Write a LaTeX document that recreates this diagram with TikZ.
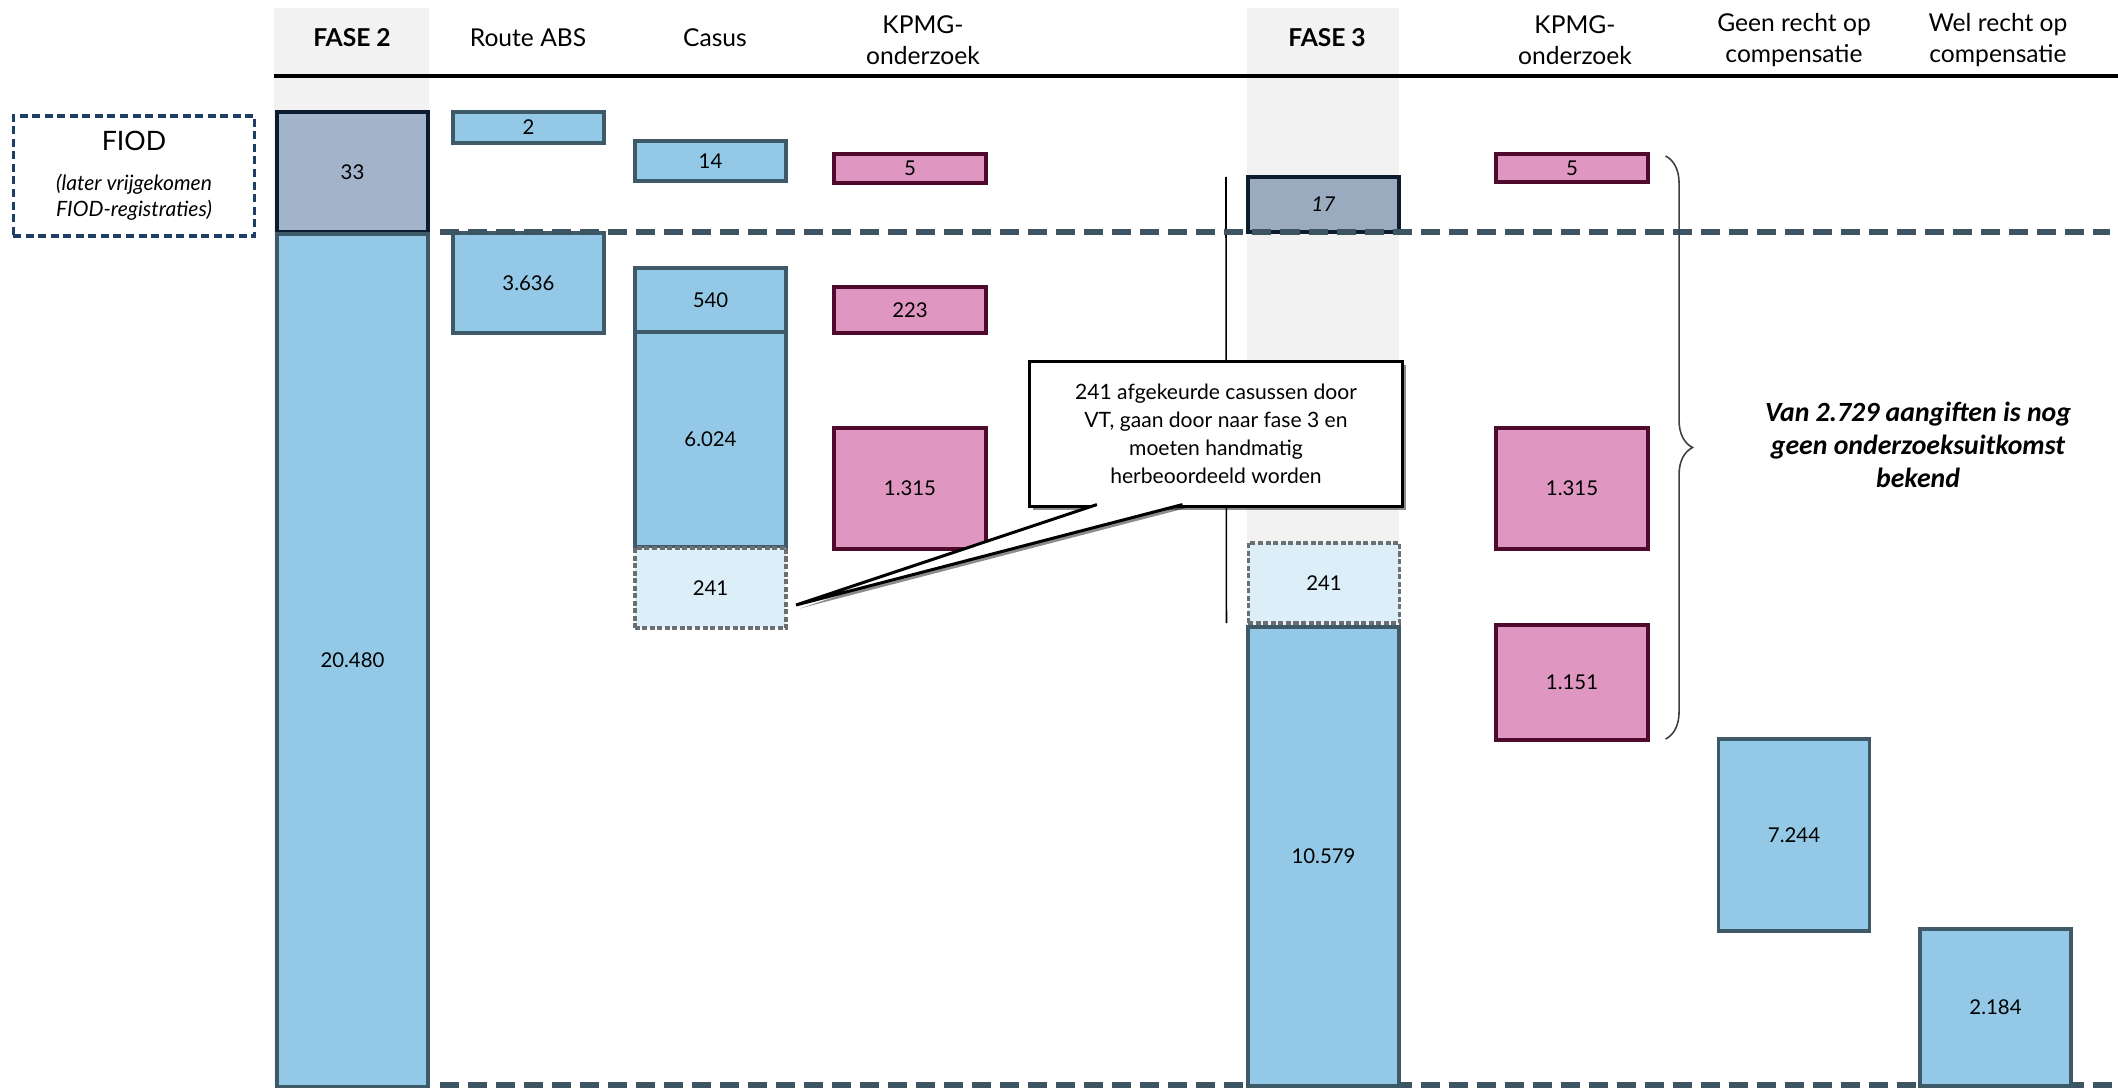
\documentclass[tikz,border=0pt]{standalone}
\usepackage{fontspec}
\setmainfont{Lato}
\newfontfamily\notefont{Carlito}
\usetikzlibrary{calc,shadows,decorations.pathreplacing}

\definecolor{barblue}{HTML}{93C9E6}
\definecolor{barline}{HTML}{3E5A68}
\definecolor{kpmgpink}{HTML}{DF97C1}
\definecolor{kpmgline}{HTML}{4F0B2D}
\definecolor{fiodfill}{HTML}{A2B4C9}
\definecolor{fiodline}{HTML}{0D1B2E}
\definecolor{vtfill}{HTML}{DCEEF8}
\definecolor{vtline}{HTML}{6C6F72}
\definecolor{bandgray}{HTML}{F2F2F2}
\definecolor{cutline}{HTML}{3D5562}
\definecolor{fiodnavy}{HTML}{1F3E66}

\begin{document}
\begin{tikzpicture}[x=0.01cm,y=-0.01cm,
      every node/.style={inner sep=0pt, outer sep=0pt},
      bar/.style={rectangle, minimum width=1.51cm, font=\fontsize{5.8}{7}\selectfont, line width=0.035cm},
      bluebar/.style={bar, fill=barblue, draw=barline},
      pinkbar/.style={bar, fill=kpmgpink, draw=kpmgline, line width=0.04cm},
      fiodbar/.style={bar, fill=fiodfill, draw=fiodline, line width=0.045cm},
      vtbar/.style={bar, fill=vtfill, draw=vtline, line width=0.035cm, dash pattern=on 0.05cm off 0.025cm},
      head/.style={font=\fontsize{7}{9}\selectfont, align=center},
      cut/.style={draw=cutline, line width=0.055cm, dash pattern=on 0.19cm off 0.09cm},
      shade/.style={drop shadow={shadow xshift=0.035cm, shadow yshift=-0.035cm, opacity=0.45, fill=black}},
      note/.style={rectangle, draw=black, fill=white, line width=0.03cm, minimum width=3.72cm, minimum height=1.44cm, align=center, font=\fontsize{6}{8}\selectfont, shade},
      pointer/.style={draw=black, fill=white, line width=0.03cm, shade},
      fiodlabel/.style={rectangle, draw=fiodnavy, line width=0.033cm, dash pattern=on 0.08cm off 0.045cm, minimum width=2.41cm, minimum height=1.2cm, align=center, font=\fontsize{6}{7.4}\selectfont\itshape},
      remark/.style={align=center, font=\notefont\bfseries\itshape\fontsize{7.9}{9.3}\selectfont},
      bracket/.style={decorate, decoration={brace, amplitude=0.27cm}, draw=black!75, line width=0.45pt}]
      \useasboundingbox (0,0) rectangle (2118,1088);
      \fill[bandgray] (274,8) rectangle (429,1088);
      \fill[bandgray] (1247,8) rectangle (1399,1088);
      \draw[line width=0.047cm] (274,76) -- (2118,76);
      \draw[cut] (440,1085) -- (2118,1085);

      \node[head] (h1) at (352,38) {\bfseries FASE 2};
      \node[head] (h2) at (528,38) {Route ABS};
      \node[head] (h3) at (715,38) {Casus};
      \node[head] (h4) at (923,40) {KPMG-\\onderzoek};
      \node[head] (h5) at (1327,38) {\bfseries FASE 3};
      \node[head] (h6) at (1575,40) {KPMG-\\onderzoek};
      \node[head] (h7) at (1794,40) {Geen recht op\\compensatie};
      \node[head] (h8) at (1998,40) {Wel recht op\\compensatie};

      \node[fiodlabel] (fiod) at (134,176) {{\upshape\fontsize{7.6}{8}\selectfont FIOD}\\[4pt](later vrijgekomen\\FIOD-registraties)};

      \node[fiodbar, minimum height=1.2cm] (f2a) at (352.5,172) {33};
      \node[bluebar, minimum height=8.52cm] (f2b) at (352.5,660) {20.480};

      \node[bluebar, minimum height=0.31cm] (abs2) at (528.5,127.5) {2};
      \node[bluebar, minimum height=1cm] (abs3636) at (528.5,283) {3.636};

      \node[bluebar, minimum height=0.4cm] (cas14) at (710.5,161) {14};
      \node[bluebar, minimum height=0.64cm] (cas540) at (710.5,300) {540};
      \node[bluebar, minimum height=2.15cm] (cas6024) at (710.5,439.5) {6.024};
      \node[vtbar, minimum height=0.8cm] (cas241) at (710.5,588) {241};

      \node[pinkbar, minimum height=0.29cm] (kpa5) at (910,168.5) {5};
      \node[pinkbar, minimum height=0.46cm] (kpa223) at (910,310) {223};
      \node[pinkbar, minimum height=1.21cm] (kpa1315) at (910,488.5) {1.315};

      \node[fiodbar, minimum height=0.55cm, fill=fiodfill!92!black!60!fiodfill] (f3a) at (1323.5,204.5) {\itshape 17};
      \node[vtbar, minimum height=0.8cm] (f3b) at (1324,583) {241};
      \node[bluebar, minimum height=4.59cm] (f3c) at (1323.5,856.5) {10.579};

      \node[pinkbar, minimum height=0.28cm] (kpb5) at (1572,168) {5};
      \node[pinkbar, minimum height=1.21cm] (kpb1315) at (1572,488.5) {1.315};
      \node[pinkbar, minimum height=1.15cm] (kpb1151) at (1572,682.5) {1.151};

      \node[bluebar, minimum height=1.92cm] (geen) at (1794,835) {7.244};
      \node[bluebar, minimum height=1.57cm] (wel) at (1995.5,1007.5) {2.184};

      \draw[line width=0.45pt] ($(f3a.north west)+(-22,0)$) -- ($(f3b.south west)+(-22,0)$);
      \draw[cut] (440,232) -- (2110,232);
      \draw[bracket] ($(kpb5.north east)+(18,2)$) -- ($(kpb1151.south east)+(18,-1)$);

      \node[remark] (rest) at (1918,445) {Van 2.729 aangiften is nog\\geen onderzoeksuitkomst\\bekend};

      \node[note] (note) at (1216,434) {241 afgekeurde casussen door\\VT, gaan door naar fase 3 en\\moeten handmatig\\herbeoordeeld worden};
      \coordinate (tip) at ($(cas241.east)+(10,17)$);
      \filldraw[pointer] ($(note.south west)!0.18!(note.south east)+(0,-1.5)$) -- (tip) -- ($(note.south west)!0.41!(note.south east)+(0,-1.5)$);
\end{tikzpicture}
\end{document}
